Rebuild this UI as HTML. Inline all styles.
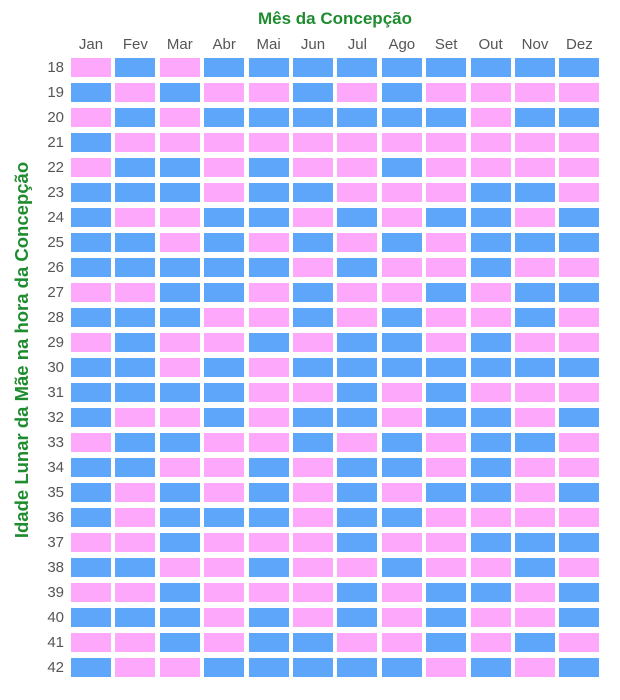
<!DOCTYPE html><html><head><meta charset="utf-8"><style>
body{margin:0;background:#fff;width:620px;height:700px;position:relative;font-family:"Liberation Sans",sans-serif;overflow:hidden}
.t{position:absolute;left:0;width:670px;top:9px;text-align:center;color:#1f8c2f;font-weight:bold;font-size:17px}
.yl{position:absolute;left:22px;top:350px;transform:translate(-50%,-50%) rotate(-90deg);white-space:nowrap;color:#1f8c2f;font-weight:bold;font-size:18.5px}
.m{position:absolute;top:36px;width:40px;text-align:center;color:#555;font-size:15px}
.r{position:absolute;left:30px;width:34px;text-align:right;color:#555;font-size:15px}
.c{position:absolute;width:40px;height:19px}
.B{background:#5ea6fa}.P{background:#fda8fa}
</style></head><body>
<div class="t">Mês da Concepção</div>
<div class="yl">Idade Lunar da Mãe na hora da Concepção</div>
<div id="g"></div>
<script>
var rows=["PBPBBBBBBBBB","BPBPPBPBPPPP","PBPBBBBBBPBB","BPPPPPPPPPPP","PBBPBPPBPPPP","BBBPBBPPPBBP","BPPBBPBPBBPB","BBPBPBPBPBBB","BBBBBPBPPBPP","PPBBPBPPBPBB","BBBPPBPBPPBP","PBPPBPBBPBPP","BBPBPBBBBBBB","BBBBPPBPBPPP","BPPBPBBPBBPB","PBBPPBPBPBBP","BBPPBPBBPBPP","BPBPBPBPBBPB","BPBBBPBBPPPP","PPBPPPBPPBBB","BBPPBPPBPPBP","PPBPPPBPBBPB","BBBPBPBPBPPB","PPBPBBPPBPBP","BPPBBBBBPBPB"];
var ms=["Jan","Fev","Mar","Abr","Mai","Jun","Jul","Ago","Set","Out","Nov","Dez"];
var h="";
for(var j=0;j<12;j++){var x=71+j*44.4;h+='<div class="m" style="left:'+x+'px">'+ms[j]+'</div>';}
for(var i=0;i<25;i++){var y=58+i*25;h+='<div class="r" style="top:'+(y+1)+'px">'+(18+i)+'</div>';
for(var j=0;j<12;j++){var x=71+j*44.4;h+='<div class="c '+rows[i][j]+'" style="left:'+x+'px;top:'+y+'px"></div>';}}
document.getElementById("g").innerHTML=h;
</script>
</body></html>
